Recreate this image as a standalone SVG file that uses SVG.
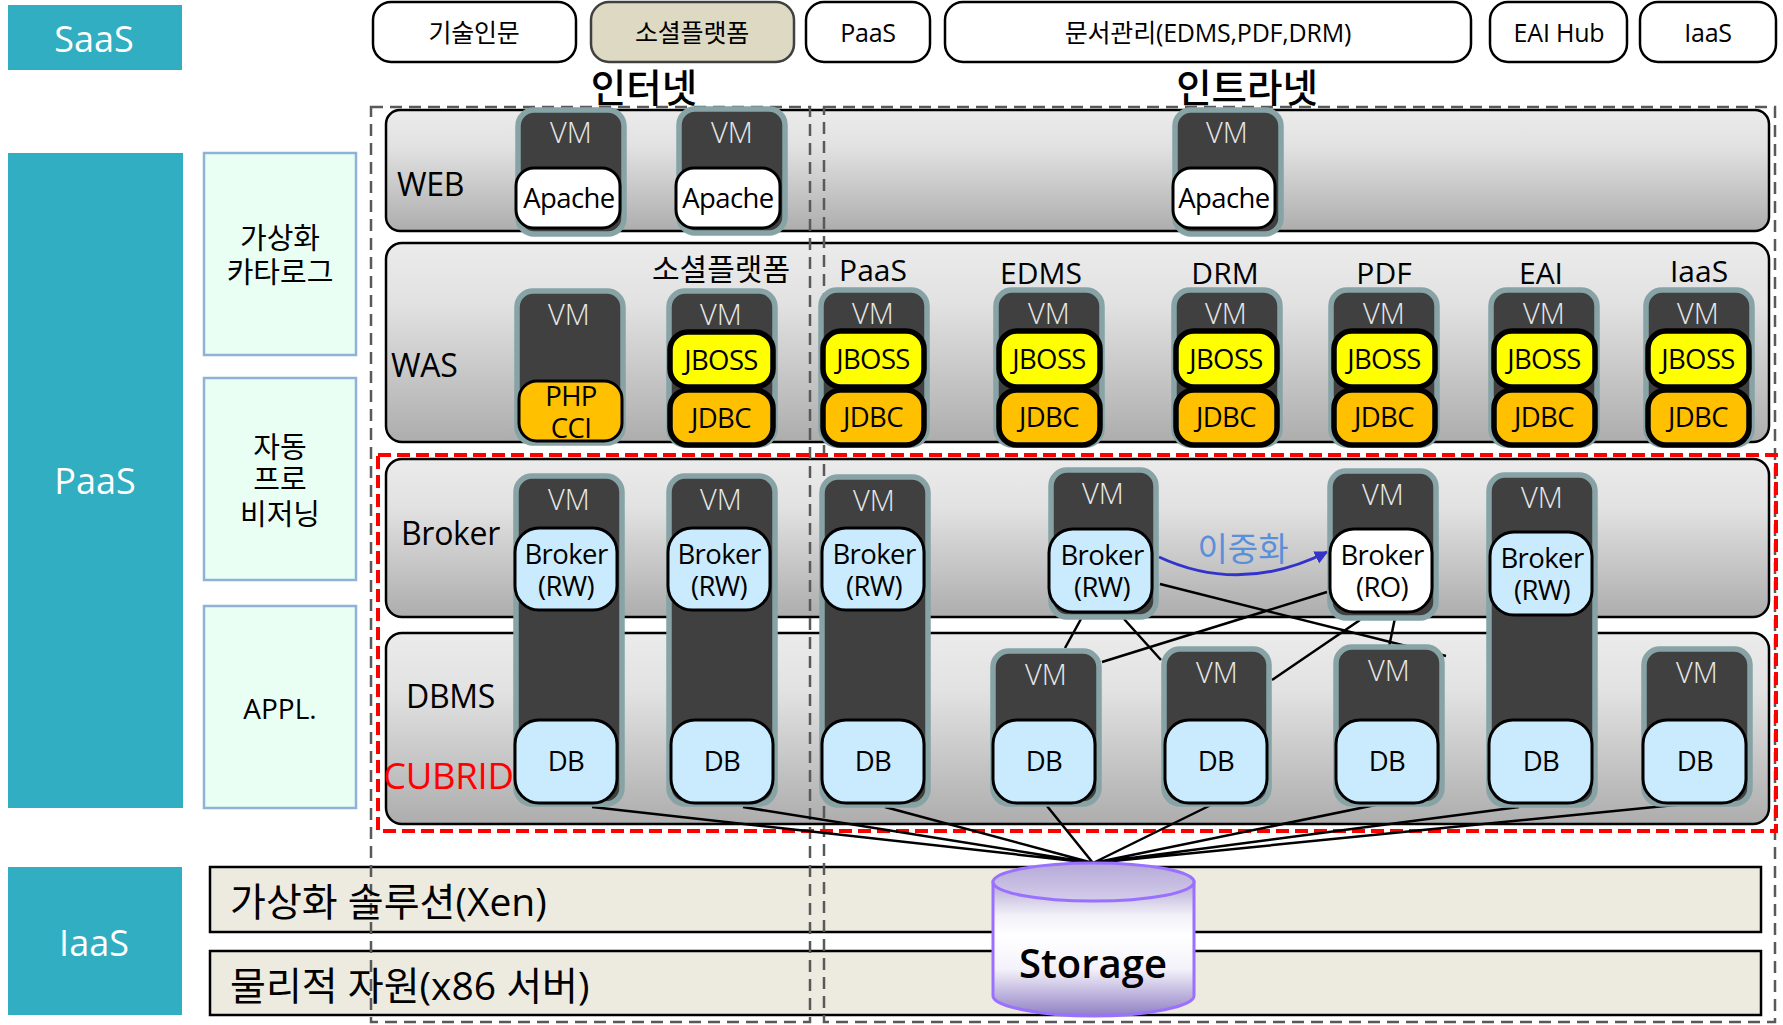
<svg xmlns="http://www.w3.org/2000/svg" width="1783" height="1025" viewBox="0 0 1783 1025">
<defs>
<linearGradient id="bandGrad" x1="0" y1="0" x2="0" y2="1"><stop offset="0" stop-color="#ebebeb"/><stop offset="0.3" stop-color="#e2e2e2"/><stop offset="1" stop-color="#adadad"/></linearGradient>
<linearGradient id="cylBody" x1="0" y1="0" x2="0" y2="1"><stop offset="0" stop-color="#b4a8d4"/><stop offset="0.25" stop-color="#f2f0f8"/><stop offset="0.4" stop-color="#ffffff"/><stop offset="0.65" stop-color="#f4f2fa"/><stop offset="1" stop-color="#8f7fc4"/></linearGradient>
<linearGradient id="cylTop" x1="0" y1="0" x2="0" y2="1"><stop offset="0" stop-color="#b5a9d8"/><stop offset="1" stop-color="#d4cdea"/></linearGradient>
<marker id="arrow" viewBox="0 0 10 10" refX="9" refY="5" markerWidth="4.500" markerHeight="5" orient="auto"><path d="M0 0L10 5L0 10z" fill="#3333cc"/></marker>
</defs>
<style>
text{font-family:"Open Sans","Noto Sans CJK KR",sans-serif;text-anchor:middle;dominant-baseline:central;fill:#000;transform:translateY(-1px)}
.blk{fill:#31aec1}
.blkt{fill:#fff;font-size:36px}
.green{fill:#e9fff3;stroke:#8fb2d8;stroke-width:2.5}
.gt{font-size:29px}
.pill{fill:#fff;stroke:#000;stroke-width:2.5}
.pt{font-size:25px;letter-spacing:-0.2px}
.band{fill:url(#bandGrad);stroke:#000;stroke-width:2.5}
.bl{font-size:32px;text-anchor:start;letter-spacing:-0.3px}
.cap{font-size:30px}
.bar{fill:#edebe0;stroke:#000;stroke-width:2.5}
.bart{font-size:39px;text-anchor:start}
.dash{fill:none;stroke:#595959;stroke-width:2.500;stroke-dasharray:12 7}
.red{fill:none;stroke:#f00;stroke-width:4;stroke-dasharray:13 6}
.ln{stroke:#000;stroke-width:2.5;fill:none}
.vm{fill:#404040;stroke:#87a3a5;stroke-width:5.5}
.vt{fill:#e8e8e8;font-size:29px;font-weight:300}
.w{fill:#fff;stroke:#000;stroke-width:3}
.b{fill:#caeafe;stroke:#000;stroke-width:3}
.j{fill:#ff0;stroke:#000;stroke-width:5.5}
.o{fill:#ffc000;stroke:#000;stroke-width:5.5}
.o2{fill:#ffc000;stroke:#000;stroke-width:3}
.t{font-size:27.500px;letter-spacing:-0.6px}
</style>

<g id="layer-blocks">
<g id="saas"><rect class="blk" x="8" y="5" width="174" height="65"/><text class="blkt" x="94" y="39">SaaS</text></g>
<g id="paas"><rect class="blk" x="8" y="153" width="175" height="655"/><text class="blkt" x="95" y="481">PaaS</text></g>
<g id="iaas"><rect class="blk" x="8" y="867" width="174" height="148"/><text class="blkt" x="94" y="943">IaaS</text></g>
<g id="catalog"><rect class="green" x="204" y="153" width="152" height="202"/><text class="gt" x="280" y="238">가상화</text><text class="gt" x="280" y="272">카타로그</text></g>
<g id="provisioning"><rect class="green" x="204" y="378" width="152" height="202"/><text class="gt" x="280" y="447">자동</text><text class="gt" x="280" y="479">프로</text><text class="gt" x="280" y="514">비저닝</text></g>
<g id="appl"><rect class="green" x="204" y="606" width="152" height="202"/><text class="gt" style="font-size:28px" x="280" y="709">APPL.</text></g>
</g>

<g id="pills">
<g id="p1"><rect class="pill" x="373" y="2" width="203" height="60" rx="18"/><text class="pt" x="474" y="33">기술인문</text></g>
<g id="p2"><rect class="pill" style="fill:#ddd9c3;stroke:#404040" x="591" y="2" width="203" height="60" rx="18"/><text class="pt" x="692" y="33">소셜플랫폼</text></g>
<g id="p3"><rect class="pill" x="806" y="2" width="124" height="60" rx="18"/><text class="pt" x="868" y="33">PaaS</text></g>
<g id="p4"><rect class="pill" x="945" y="2" width="526" height="60" rx="18"/><text class="pt" x="1208" y="33">문서관리(EDMS,PDF,DRM)</text></g>
<g id="p5"><rect class="pill" x="1490" y="2" width="137" height="60" rx="18"/><text class="pt" x="1559" y="33">EAI Hub</text></g>
<g id="p6"><rect class="pill" x="1640" y="2" width="136" height="60" rx="18"/><text class="pt" x="1708" y="33">IaaS</text></g>
</g>

<g id="bands">
<rect class="band" x="386" y="110" width="1383" height="121" rx="14"/>
<rect class="band" x="386" y="243" width="1383" height="199" rx="16"/>
<rect class="band" x="386" y="459" width="1383" height="158" rx="16"/>
<rect class="band" x="386" y="633" width="1383" height="191" rx="16"/>
<rect class="bar" x="210" y="867" width="1551" height="65"/>
<rect class="bar" x="210" y="951" width="1551" height="64"/>
</g>

<g id="zones">
<rect class="dash" x="371" y="107" width="439" height="915"/>
<rect class="dash" x="824" y="107" width="951" height="915"/>
<rect class="red" x="378" y="455" width="1398" height="376"/>
</g>

<g id="connectors">
<path class="ln" d="M1081 619L1065 648M1124 619L1161 660M1327 592L1102 662M1360 620L1272 680M1396 613L1389 647M1160 584L1446 656"/>
<path class="ln" d="M592 807L1093 863M743 807L1093 863M885 807L1093 863M1047 806L1093 863M1215 803L1093 863M1385 803L1093 863M1519 807L1093 863M1695 803L1093 863"/>
<path d="M1159 557Q1241 595 1327 552" fill="none" stroke="#3333cc" stroke-width="3" marker-end="url(#arrow)"/>
</g>

<g id="web-vm1"><rect class="vm" x="518" y="110" width="106" height="124" rx="16"/><text class="vt" x="571" y="132">VM</text><rect class="w" x="516" y="168" width="104" height="60" rx="18"/><text class="t" x="569" y="198">Apache</text></g>
<g id="web-vm2"><rect class="vm" x="679" y="109" width="106" height="124" rx="16"/><text class="vt" x="732" y="132">VM</text><rect class="w" x="676" y="168" width="104" height="60" rx="18"/><text class="t" x="728" y="198">Apache</text></g>
<g id="web-vm3"><rect class="vm" x="1175" y="110" width="106" height="124" rx="16"/><text class="vt" x="1227" y="132">VM</text><rect class="w" x="1173" y="168" width="102" height="60" rx="18"/><text class="t" x="1224" y="198">Apache</text></g>

<g id="was-vm1"><rect class="vm" x="517" y="291" width="106" height="152" rx="16"/><text class="vt" x="569" y="314">VM</text><rect class="o2" x="519" y="381" width="103" height="60" rx="18"/><text class="t" x="571" y="396">PHP</text><text class="t" x="571" y="428">CCI</text></g>
<g id="was-vm2"><rect class="vm" x="669" y="291" width="106" height="154" rx="16"/><text class="vt" x="721" y="314">VM</text><rect class="j" x="670" y="332" width="103" height="55" rx="18"/><text class="t" x="721" y="360">JBOSS</text><rect class="o" x="670" y="390" width="103" height="55" rx="18"/><text class="t" x="721" y="418">JDBC</text></g>
<g id="was-vm3"><rect class="vm" x="821" y="290" width="106" height="155" rx="16"/><text class="vt" x="873" y="313">VM</text><rect class="j" x="823" y="331" width="101" height="56" rx="18"/><text class="t" x="873" y="359">JBOSS</text><rect class="o" x="823" y="390" width="101" height="55" rx="18"/><text class="t" x="873" y="417">JDBC</text></g>
<g id="was-vm4"><rect class="vm" x="996" y="290" width="106" height="155" rx="16"/><text class="vt" x="1049" y="313">VM</text><rect class="j" x="999" y="331" width="101" height="56" rx="18"/><text class="t" x="1049" y="359">JBOSS</text><rect class="o" x="999" y="390" width="101" height="55" rx="18"/><text class="t" x="1049" y="417">JDBC</text></g>
<g id="was-vm5"><rect class="vm" x="1174" y="290" width="106" height="155" rx="16"/><text class="vt" x="1226" y="313">VM</text><rect class="j" x="1176" y="331" width="101" height="56" rx="18"/><text class="t" x="1226" y="359">JBOSS</text><rect class="o" x="1176" y="390" width="101" height="55" rx="18"/><text class="t" x="1226" y="417">JDBC</text></g>
<g id="was-vm6"><rect class="vm" x="1331" y="290" width="106" height="155" rx="16"/><text class="vt" x="1384" y="313">VM</text><rect class="j" x="1334" y="331" width="101" height="56" rx="18"/><text class="t" x="1384" y="359">JBOSS</text><rect class="o" x="1334" y="390" width="101" height="55" rx="18"/><text class="t" x="1384" y="417">JDBC</text></g>
<g id="was-vm7"><rect class="vm" x="1491" y="290" width="106" height="155" rx="16"/><text class="vt" x="1544" y="313">VM</text><rect class="j" x="1494" y="331" width="101" height="56" rx="18"/><text class="t" x="1544" y="359">JBOSS</text><rect class="o" x="1494" y="390" width="101" height="55" rx="18"/><text class="t" x="1544" y="417">JDBC</text></g>
<g id="was-vm8"><rect class="vm" x="1646" y="290" width="106" height="155" rx="16"/><text class="vt" x="1698" y="313">VM</text><rect class="j" x="1648" y="331" width="101" height="56" rx="18"/><text class="t" x="1698" y="359">JBOSS</text><rect class="o" x="1648" y="390" width="101" height="55" rx="18"/><text class="t" x="1698" y="417">JDBC</text></g>

<g id="tall-vm1"><rect class="vm" x="516" y="476" width="106" height="328" rx="16"/><text class="vt" x="569" y="499">VM</text><rect class="b" x="515" y="528" width="102" height="82" rx="24"/><text class="t" x="566" y="554">Broker</text><text class="t" x="566" y="586">(RW)</text><rect class="b" x="515" y="720" width="102" height="83" rx="24"/><text class="t" x="566" y="761">DB</text></g>
<g id="tall-vm2"><rect class="vm" x="669" y="476" width="106" height="328" rx="16"/><text class="vt" x="721" y="499">VM</text><rect class="b" x="668" y="528" width="102" height="82" rx="24"/><text class="t" x="719" y="554">Broker</text><text class="t" x="719" y="586">(RW)</text><rect class="b" x="671" y="720" width="102" height="83" rx="24"/><text class="t" x="722" y="761">DB</text></g>
<g id="tall-vm3"><rect class="vm" x="822" y="477" width="106" height="328" rx="16"/><text class="vt" x="874" y="500">VM</text><rect class="b" x="822" y="528" width="102" height="82" rx="24"/><text class="t" x="874" y="554">Broker</text><text class="t" x="874" y="586">(RW)</text><rect class="b" x="822" y="720" width="102" height="83" rx="24"/><text class="t" x="873" y="761">DB</text></g>
<g id="broker-vm4"><rect class="vm" x="1051" y="470" width="105" height="147" rx="16"/><text class="vt" x="1103" y="493">VM</text><rect class="b" x="1049" y="529" width="103" height="83" rx="24"/><text class="t" x="1102" y="555">Broker</text><text class="t" x="1102" y="587">(RW)</text></g>
<g id="broker-vm5"><rect class="vm" x="1330" y="471" width="106" height="147" rx="16"/><text class="vt" x="1383" y="494">VM</text><rect class="w" x="1330" y="529" width="102" height="83" rx="24"/><text class="t" x="1382" y="555">Broker</text><text class="t" x="1382" y="587">(RO)</text></g>
<g id="tall-vm6"><rect class="vm" x="1489" y="475" width="106" height="330" rx="16"/><text class="vt" x="1542" y="497">VM</text><rect class="b" x="1490" y="532" width="102" height="83" rx="24"/><text class="t" x="1542" y="558">Broker</text><text class="t" x="1542" y="590">(RW)</text><rect class="b" x="1489" y="720" width="103" height="83" rx="24"/><text class="t" x="1541" y="761">DB</text></g>
<g id="db-vm1"><rect class="vm" x="993" y="651" width="106" height="153" rx="16"/><text class="vt" x="1046" y="674">VM</text><rect class="b" x="993" y="720" width="102" height="83" rx="24"/><text class="t" x="1044" y="761">DB</text></g>
<g id="db-vm2"><rect class="vm" x="1164" y="649" width="105" height="155" rx="16"/><text class="vt" x="1217" y="672">VM</text><rect class="b" x="1165" y="720" width="102" height="83" rx="24"/><text class="t" x="1216" y="761">DB</text></g>
<g id="db-vm3"><rect class="vm" x="1336" y="647" width="106" height="157" rx="16"/><text class="vt" x="1389" y="670">VM</text><rect class="b" x="1336" y="720" width="102" height="83" rx="24"/><text class="t" x="1387" y="761">DB</text></g>
<g id="db-vm4"><rect class="vm" x="1644" y="649" width="106" height="155" rx="16"/><text class="vt" x="1697" y="672">VM</text><rect class="b" x="1643" y="720" width="103" height="83" rx="24"/><text class="t" x="1695" y="761">DB</text></g>

<g id="storage">
<path d="M993 882V996C993 1006 1038 1016 1093.500 1016C1149 1016 1194 1006 1194 996V882z" fill="url(#cylBody)" stroke="#9a70ff" stroke-width="3"/>
<ellipse cx="1093.500" cy="882" rx="100.500" ry="19" fill="url(#cylTop)" stroke="#9a70ff" stroke-width="3"/>
<text x="1093" y="963" style="font-size:40px;font-weight:600">Storage</text>
</g>

<g id="labels">
<text x="644" y="88" style="font-size:38.500px;font-weight:500">인터넷</text>
<text x="1247" y="88" style="font-size:38.500px;font-weight:500">인트라넷</text>
<text class="bl" x="397" y="184">WEB</text>
<text class="bl" x="391" y="365">WAS</text>
<text class="bl" x="401" y="533">Broker</text>
<text class="bl" x="406" y="696">DBMS</text>
<text class="bl" x="383" y="776" style="fill:#f00;font-size:36.500px">CUBRID</text>
<text class="cap" x="721" y="269">소셜플랫폼</text>
<text class="cap" x="873" y="270">PaaS</text>
<text class="cap" x="1041" y="273">EDMS</text>
<text class="cap" x="1225" y="273">DRM</text>
<text class="cap" x="1384" y="273">PDF</text>
<text class="cap" x="1541" y="273">EAI</text>
<text class="cap" x="1699" y="271">IaaS</text>
<text x="1243" y="549" style="font-size:33px;fill:#5b8fd9">이중화</text>
<text class="bart" x="230" y="901">가상화 솔루션(Xen)</text>
<text class="bart" x="230" y="985">물리적 자원(x86 서버)</text>
</g>
</svg>
